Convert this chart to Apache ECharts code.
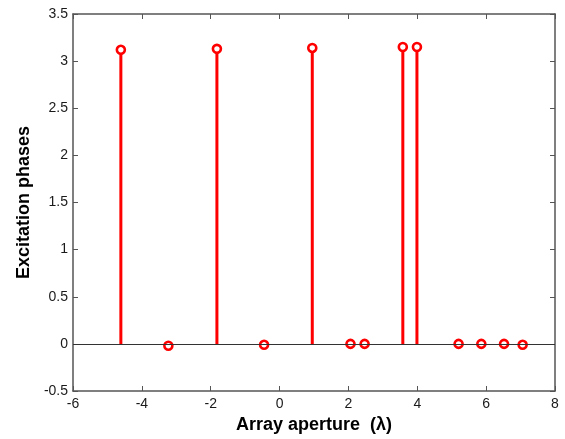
<!DOCTYPE html>
<html lang="en">
<head>
    <meta charset="UTF-8">
    <title>Excitation phases</title>
    <script src="https://cdn.jsdelivr.net/npm/echarts@6/dist/echarts.min.js"></script>
    <style>
        html, body { margin: 0; padding: 0; background: #fff; }
        #main { width: 565px; height: 439px; }
    </style>
</head>
<body>
<div id="main"></div>
<script>
    // element positions (lambda) and excitation phases
    const positions = [-4.61, -3.23, -1.82, -0.45, 0.95, 2.06, 2.47, 3.58, 3.99, 5.20, 5.86, 6.52, 7.06];
    const phases = [3.12, -0.02, 3.13, -0.01, 3.14, 0, 0, 3.15, 3.15, 0, 0, 0, -0.01];
    const xTicks = [-6, -4, -2, 0, 2, 4, 6, 8];
    const yTicks = [-0.5, 0, 0.5, 1, 1.5, 2, 2.5, 3, 3.5];

    const points = positions.map((x, i) => [x, phases[i]]);
    const axisColor = '#555';
    const labelStyle = {color: '#1a1a1a', fontSize: 14, fontFamily: 'Liberation Sans, Arial, sans-serif'};
    const titleStyle = {color: '#000', fontSize: 18, fontWeight: 'bold', fontFamily: 'Liberation Sans, Arial, sans-serif'};

    const chart = echarts.init(document.getElementById('main'));
    chart.setOption({
        animation: false,
        grid: {left: 73, right: 10, top: 14, bottom: 47},
        xAxis: [
            {
                type: 'value', position: 'bottom',
                min: xTicks[0], max: xTicks[xTicks.length - 1], interval: 2,
                name: 'Array aperture  (λ)', nameLocation: 'middle', nameGap: 25,
                nameTextStyle: titleStyle,
                axisLine: {onZero: false, lineStyle: {color: axisColor, width: 1.5}},
                axisTick: {inside: true, length: 5, lineStyle: {color: axisColor}},
                axisLabel: Object.assign({margin: 6}, labelStyle),
                splitLine: {show: false}
            },
            {
                type: 'value', position: 'top',
                min: xTicks[0], max: xTicks[xTicks.length - 1], interval: 2,
                axisLine: {onZero: false, lineStyle: {color: axisColor, width: 1.5}},
                axisTick: {inside: true, length: 5, lineStyle: {color: axisColor}},
                axisLabel: {show: false},
                splitLine: {show: false}
            }
        ],
        yAxis: [
            {
                type: 'value', position: 'left',
                min: yTicks[0], max: yTicks[yTicks.length - 1], interval: 0.5,
                name: 'Excitation phases', nameLocation: 'middle', nameGap: 40,
                nameTextStyle: titleStyle,
                axisLine: {onZero: false, lineStyle: {color: axisColor, width: 1.5}},
                axisTick: {inside: true, length: 5, lineStyle: {color: axisColor}},
                axisLabel: Object.assign({margin: 5}, labelStyle),
                splitLine: {show: false}
            },
            {
                type: 'value', position: 'right',
                min: yTicks[0], max: yTicks[yTicks.length - 1], interval: 0.5,
                axisLine: {onZero: false, lineStyle: {color: axisColor, width: 1.5}},
                axisTick: {inside: true, length: 5, lineStyle: {color: axisColor}},
                axisLabel: {show: false},
                splitLine: {show: false}
            }
        ],
        series: [
            {
                // stems from the baseline up to each value
                type: 'custom',
                data: points,
                renderItem(params, api) {
                    const top = api.coord([api.value(0), api.value(1)]);
                    const base = api.coord([api.value(0), 0]);
                    return {
                        type: 'line',
                        shape: {x1: base[0], y1: base[1], x2: top[0], y2: top[1]},
                        style: {stroke: '#ff0000', lineWidth: 3}
                    };
                },
                z: 2,
                markLine: {
                    silent: true,
                    symbol: 'none',
                    label: {show: false},
                    lineStyle: {color: '#333', width: 1.2, type: 'solid'},
                    data: [{yAxis: 0}]
                }
            },
            {
                type: 'scatter',
                data: points,
                symbol: 'circle',
                symbolSize: 8,
                itemStyle: {color: '#ffffff', borderColor: '#ff0000', borderWidth: 2.6, opacity: 1},
                z: 3
            }
        ]
    });
</script>
</body>
</html>
